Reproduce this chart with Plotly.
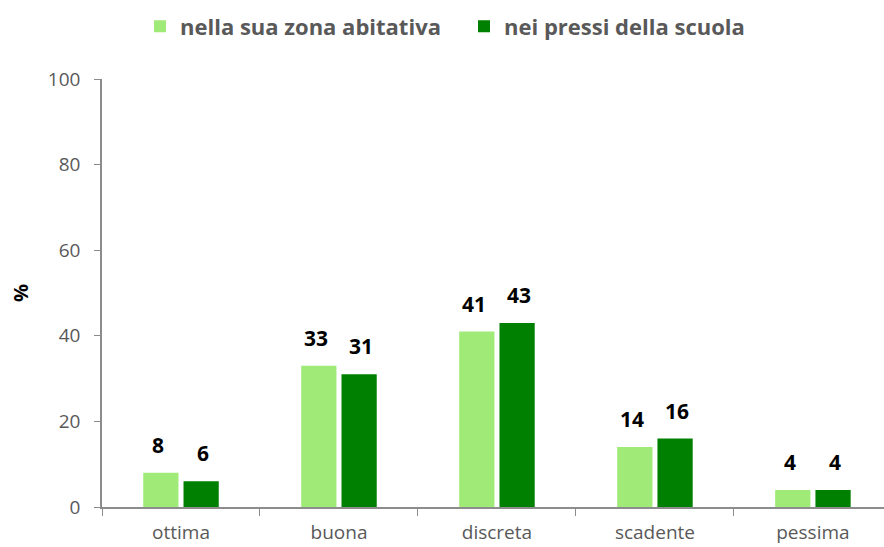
import plotly.graph_objects as go

categories = ["ottima", "buona", "discreta", "scadente", "pessima"]
zona_abitativa = [8, 33, 41, 14, 4]
pressi_scuola = [6, 31, 43, 16, 4]
series_names = ["nella sua zona abitativa", "nei pressi della scuola"]
y_ticks = [0, 20, 40, 60, 80, 100]
y_title = "%"

FONT = "Open Sans"
label_font = dict(family=FONT, size=21, color="black", weight="bold")

fig = go.Figure()
for name, vals, color in [(series_names[0], zona_abitativa, "#A0EB78"),
                          (series_names[1], pressi_scuola, "#008000")]:
    fig.add_trace(go.Bar(
        x=categories, y=vals, name=name,
        marker=dict(color=color, line=dict(width=0)),
        text=vals, textposition="none",
        cliponaxis=False,
    ))

# data labels placed above each bar, offset from the bar top
for i, cat in enumerate(categories):
    for j, vals in enumerate([zona_abitativa, pressi_scuola]):
        fig.add_annotation(
            x=cat, y=vals[i], xref="x", yref="y",
            text=str(vals[i]), showarrow=False,
            xshift=(-22.5 if j == 0 else 22.5), yshift=12,
            yanchor="bottom", font=label_font,
        )

# y-axis title
fig.add_annotation(
    x=0, y=0.5, xref="paper", yref="paper", xshift=-82,
    text=y_title, textangle=-90, showarrow=False,
    xanchor="center", yanchor="middle",
    font=dict(family=FONT, size=20, color="black", weight="bold"),
)

fig.update_layout(
    width=884, height=547,
    margin=dict(l=102, r=0, t=79, b=40, autoexpand=False),
    paper_bgcolor="white", plot_bgcolor="white",
    barmode="group", bargap=0.49, bargroupgap=0.125,
    font=dict(family=FONT, color="#595959"),
    showlegend=True,
    legend=dict(
        orientation="h", x=140 / 884, xanchor="left", y=0.99, yanchor="top",
        yref="container", xref="container",
        font=dict(family=FONT, size=22, color="#595959", weight="bold"),
        itemwidth=30, traceorder="normal",
        entrywidth=279, entrywidthmode="pixels",
    ),
)
fig.update_xaxes(
    type="category", range=[-0.5, 4.45], automargin=False,
    showline=True, linecolor="#8C8C8C", linewidth=1.5,
    ticks="outside", tickson="boundaries", ticklen=7, tickcolor="#8C8C8C",
    tickfont=dict(family=FONT, size=19, color="#595959"),
    ticklabelstandoff=7,
    showgrid=False, zeroline=False,
)
fig.update_yaxes(
    range=[0, 100], tickvals=y_ticks, automargin=False,
    showline=True, linecolor="#8C8C8C", linewidth=1.5,
    ticks="outside", ticklen=6, tickcolor="#8C8C8C",
    tickfont=dict(family=FONT, size=19, color="#595959"),
    ticklabelstandoff=10,
    showgrid=False, zeroline=False,
)

fig.write_html("out.html", config={"displayModeBar": False},
               post_script="document.body.style.margin='0';")
